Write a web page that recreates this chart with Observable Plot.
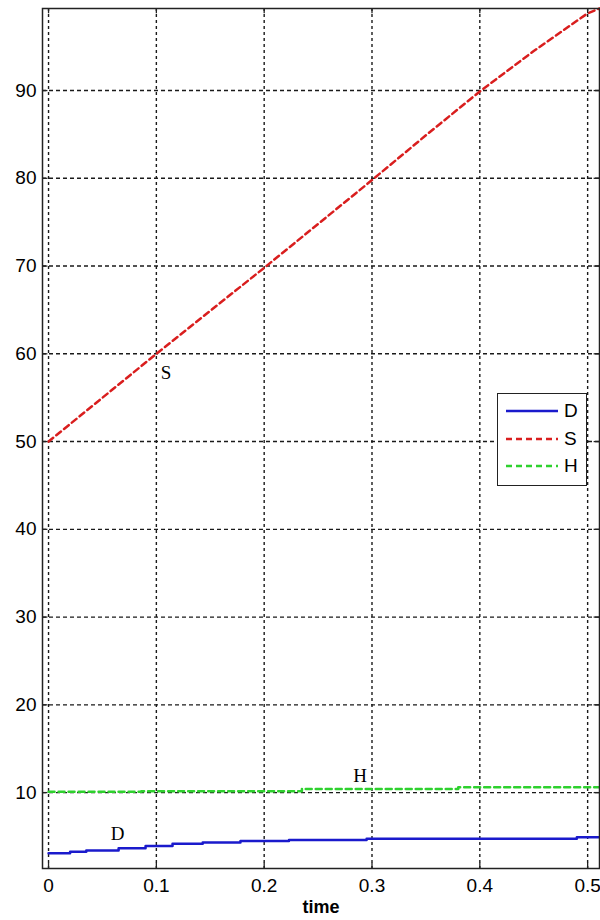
<!DOCTYPE html>
<html>
<head>
<meta charset="utf-8">
<script src="https://cdn.jsdelivr.net/npm/d3@7"></script>
<script src="https://cdn.jsdelivr.net/npm/@observablehq/plot@0.6"></script>
<style>
  html, body { margin: 0; padding: 0; background: #fff; }
  #wrap { position: relative; width: 600px; height: 920px; font-family: "Liberation Sans", Arial, sans-serif; }
  #legend { position: absolute; left: 497px; top: 393px; width: 90px; height: 93px; border: 1.5px solid #222; background: #fff; box-sizing: border-box; }
  .row { position: absolute; left: 8px; height: 20px; display: flex; align-items: center; }
  .row span { font-size: 19px; margin-left: 6px; color: #000; }
</style>
</head>
<body>
<div id="wrap"></div>
<script>
// Data
const seriesNames = ["D", "S", "H"];
const colors = ["#1a1acc", "#d91e1e", "#2ed12e"];
const dashes = ["none", "6,4", "6,4"];

const tS = [0, 0.05, 0.1, 0.15, 0.2, 0.25, 0.3, 0.35, 0.4, 0.45, 0.5, 0.511];
const vS = [50, 55, 60, 64.9, 69.8, 74.8, 79.8, 84.9, 89.9, 94.5, 98.8, 99.35];

const tD = [0, 0.02, 0.035, 0.065, 0.09, 0.115, 0.143, 0.178, 0.223, 0.295, 0.49, 0.511];
const vD = [3.1, 3.25, 3.4, 3.65, 3.9, 4.16, 4.31, 4.48, 4.59, 4.73, 4.91, 4.91];

const tH = [0, 0.086, 0.235, 0.38, 0.511];
const vH = [10.1, 10.15, 10.42, 10.6, 10.6];

const xTicks = [0, 0.1, 0.2, 0.3, 0.4, 0.5];
const yTicks = [10, 20, 30, 40, 50, 60, 70, 80, 90];

const labelNames = ["S", "H", "D"];
const labelT = [0.109, 0.289, 0.064];
const labelV = [57.8, 11.9, 5.3];

const xDomain = [-0.0056, 0.511];
const yDomain = [1.35, 99.35];

const rowsS = tS.map((t, i) => ({t, v: vS[i]}));
const rowsD = tD.map((t, i) => ({t, v: vD[i]}));
const rowsH = tH.map((t, i) => ({t, v: vH[i]}));
const labels = labelNames.map((n, i) => ({n, t: labelT[i], v: labelV[i]}));

const chart = Plot.plot({
  width: 600,
  height: 920,
  marginLeft: 42,
  marginTop: 8,
  marginRight: 1,
  marginBottom: 52,
  style: {fontFamily: '"Liberation Sans", Arial, sans-serif', fontSize: "19px", color: "#000", background: "#fff"},
  x: {domain: xDomain, ticks: xTicks, tickFormat: d => d3.format("")(d), label: null},
  y: {domain: yDomain, ticks: yTicks, label: null},
  marks: [
    Plot.ruleX(xTicks, {x: d => d, stroke: "#1a1a1a", strokeDasharray: "3,3", strokeWidth: 1.4}),
    Plot.ruleY(yTicks, {y: d => d, stroke: "#1a1a1a", strokeDasharray: "4,3", strokeWidth: 1.4}),
    Plot.line(rowsH, {x: "t", y: "v", stroke: colors[2], strokeWidth: 2.5, strokeDasharray: dashes[2], curve: "step-after"}),
    Plot.line(rowsD, {x: "t", y: "v", stroke: colors[0], strokeWidth: 2.5, curve: "step-after"}),
    Plot.line(rowsS, {x: "t", y: "v", stroke: colors[1], strokeWidth: 2.5, strokeDasharray: dashes[1]}),
    Plot.text(labels, {x: "t", y: "v", text: "n", fontFamily: '"Liberation Serif", "Times New Roman", serif', fontSize: 19, fill: "#000"}),
    Plot.axisX(xTicks, {tickSize: 0, tickPadding: 10, fontSize: 19, label: null, tickFormat: d => d3.format("")(d)}),
    Plot.axisY(yTicks, {tickSize: 0, tickPadding: 6, fontSize: 19, label: null}),
    Plot.ruleX(xTicks, {x: d => d, y1: yDomain[0], y2: yDomain[0] + 0.6, stroke: "#222", strokeWidth: 1.3}),
    Plot.ruleX(xTicks, {x: d => d, y1: yDomain[1] - 0.6, y2: yDomain[1], stroke: "#222", strokeWidth: 1.3}),
    Plot.ruleY(yTicks, {y: d => d, x1: xDomain[0], x2: xDomain[0] + 0.005, stroke: "#222", strokeWidth: 1.3}),
    Plot.ruleY(yTicks, {y: d => d, x1: xDomain[1] - 0.005, x2: xDomain[1], stroke: "#222", strokeWidth: 1.3}),
    Plot.frame({stroke: "#222", strokeWidth: 1.5}),
    Plot.text(["time"], {frameAnchor: "bottom", dy: 44, fontWeight: "bold", fontSize: 18, fill: "#000"})
  ]
});

const wrap = document.getElementById("wrap");
wrap.appendChild(chart);

// Legend
const legend = document.createElement("div");
legend.id = "legend";
seriesNames.forEach((name, i) => {
  const row = document.createElement("div");
  row.className = "row";
  row.style.top = (7 + i * 27.5) + "px";
  const svg = d3.create("svg").attr("width", 52).attr("height", 20);
  svg.append("line").attr("x1", 0).attr("x2", 52).attr("y1", 10).attr("y2", 10)
    .attr("stroke", colors[i]).attr("stroke-width", 2.5)
    .attr("stroke-dasharray", dashes[i] === "none" ? null : dashes[i]);
  row.appendChild(svg.node());
  const sp = document.createElement("span");
  sp.textContent = name;
  row.appendChild(sp);
  legend.appendChild(row);
});
wrap.appendChild(legend);
</script>
</body>
</html>
